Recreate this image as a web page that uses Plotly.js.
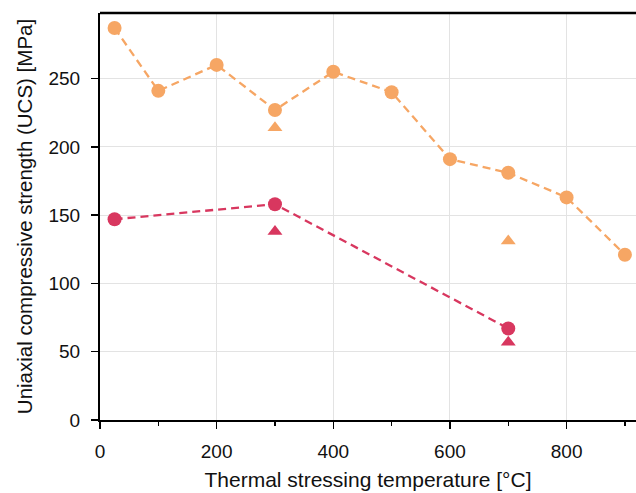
<!DOCTYPE html>
<html>
<head>
<meta charset="utf-8">
<script src="https://cdn.plot.ly/plotly-3.0.1.min.js"></script>
<style>html,body{margin:0;padding:0;background:#fff;}#chart{width:636px;height:493px;}</style>
</head>
<body>
<div id="chart"></div>
<script>
// Orange series (circles, dashed line)
const orangeTemps = [25, 100, 200, 300, 400, 500, 600, 700, 800, 900];
const orangeUCS = [287, 241, 260, 227, 255, 240, 191, 181, 163, 121];
// Orange triangles
const orangeTriTemps = [300, 700];
const orangeTriUCS = [214, 131];
// Red series (circles, dashed line)
const redTemps = [25, 300, 700];
const redUCS = [147, 158, 67];
// Red triangles
const redTriTemps = [300, 700];
const redTriUCS = [138, 57];

const xTicks = [0, 200, 400, 600, 800];
const yTicks = [0, 50, 100, 150, 200, 250];

const orange = '#F6A664';
const red = '#D8375F';

const traces = [
  {x: orangeTemps, y: orangeUCS, type: 'scatter', mode: 'lines+markers',
   line: {color: orange, width: 2.3, dash: '8px,5px'},
   marker: {color: orange, size: 14, symbol: 'circle'}},
  {x: orangeTriTemps, y: orangeTriUCS, type: 'scatter', mode: 'markers',
   marker: {color: orange, size: 13, symbol: 'triangle-up'}},
  {x: redTemps, y: redUCS, type: 'scatter', mode: 'lines+markers',
   line: {color: red, width: 2.3, dash: '8px,5px'},
   marker: {color: red, size: 14, symbol: 'circle'}},
  {x: redTriTemps, y: redTriUCS, type: 'scatter', mode: 'markers',
   marker: {color: red, size: 13, symbol: 'triangle-up'}}
];

const txt = '#111';
const font = {family: 'Liberation Sans, Arial, sans-serif', size: 19, color: txt};

const layout = {
  width: 636, height: 493,
  margin: {l: 100, r: 0, t: 13, b: 73},
  paper_bgcolor: '#fff', plot_bgcolor: '#fff',
  showlegend: false,
  font: font,
  xaxis: {
    range: [0, 919], tickvals: xTicks, ticktext: xTicks.map(String),
    showline: true, linecolor: '#000', linewidth: 2,
    ticks: 'outside', ticklen: 7, tickwidth: 1.5, tickcolor: '#000',
    ticklabelstandoff: 6,
    showgrid: true, gridcolor: '#e3e3e3', gridwidth: 1, zeroline: false,
    minor: {ticks: 'outside', dtick: 100, tick0: 100, ticklen: 4, tickwidth: 1.2, tickcolor: '#000', showgrid: false},
    tickfont: {size: 19, color: txt},
    title: {text: 'Thermal stressing temperature [°C]', font: {size: 21, color: txt}, standoff: 12}
  },
  yaxis: {
    range: [0, 298], tickvals: yTicks, ticktext: yTicks.map(String),
    showline: true, linecolor: '#000', linewidth: 2,
    ticks: 'outside', ticklen: 7, tickwidth: 1.5, tickcolor: '#000',
    ticklabelstandoff: 7,
    showgrid: true, gridcolor: '#e3e3e3', gridwidth: 1, zeroline: false,
    tickfont: {size: 19, color: txt},
    title: {text: 'Uniaxial compressive strength (UCS) [MPa]', font: {size: 20.5, color: txt}, standoff: 10}
  },
  shapes: [
    {type: 'line', xref: 'paper', yref: 'paper', x0: 0, x1: 1, y0: 1, y1: 1,
     line: {color: '#000', width: 2.5}}
  ]
};

Plotly.newPlot('chart', traces, layout, {displayModeBar: false, staticPlot: true});
</script>
</body>
</html>
